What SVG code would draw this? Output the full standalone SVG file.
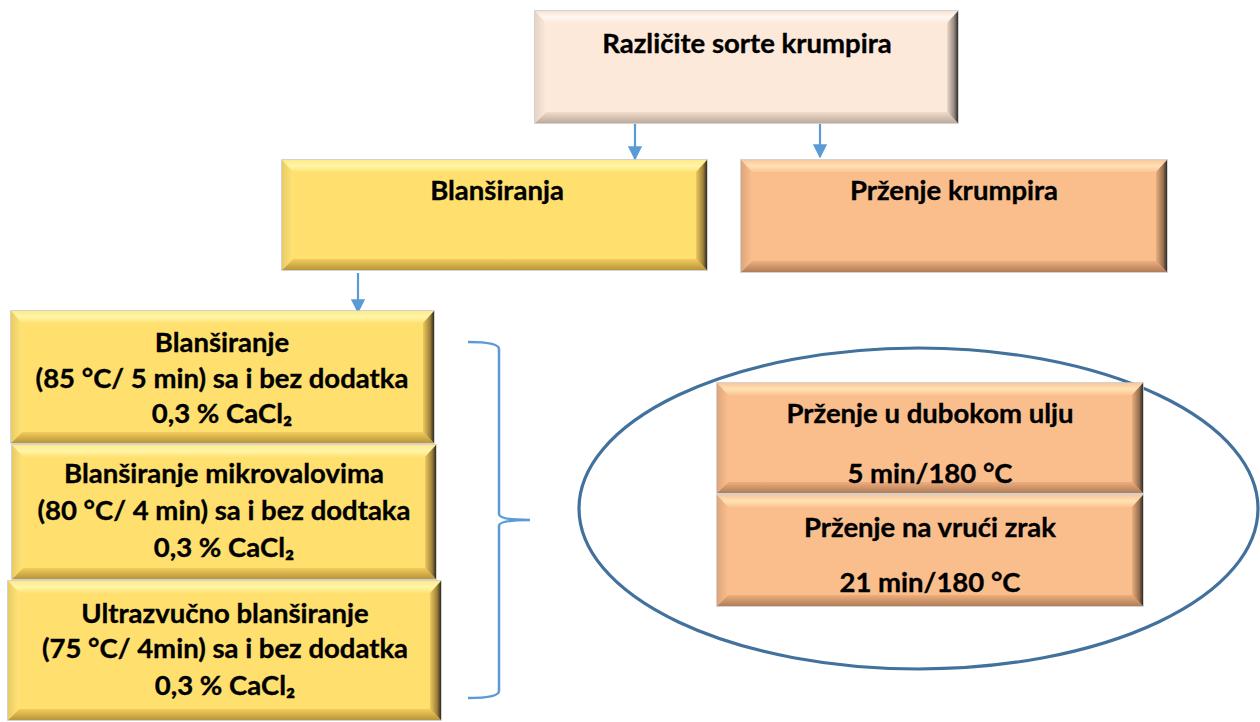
<svg xmlns="http://www.w3.org/2000/svg" width="1260" height="722" viewBox="0 0 1260 722">
<defs>
<linearGradient id="yTop" x1="0" y1="0" x2="0" y2="1"><stop offset="0" stop-color="#FFE98A"/><stop offset="0.5" stop-color="#FFF6A8"/><stop offset="1" stop-color="#FFE277"/></linearGradient>
<linearGradient id="yBot" x1="0" y1="0" x2="0" y2="1"><stop offset="0" stop-color="#F2CC5C"/><stop offset="1" stop-color="#B8953A"/></linearGradient>
<linearGradient id="yRight" x1="0" y1="0" x2="1" y2="0"><stop offset="0" stop-color="#EFC95E"/><stop offset="0.65" stop-color="#9C7F38"/><stop offset="1" stop-color="#2E2A22"/></linearGradient>
<linearGradient id="yLeft" x1="0" y1="0" x2="1" y2="0"><stop offset="0" stop-color="#E9CB62"/><stop offset="1" stop-color="#FFE47A"/></linearGradient>
<linearGradient id="oTop" x1="0" y1="0" x2="0" y2="1"><stop offset="0" stop-color="#F9C79A"/><stop offset="0.5" stop-color="#FFE2B4"/><stop offset="1" stop-color="#FBC590"/></linearGradient>
<linearGradient id="oBot" x1="0" y1="0" x2="0" y2="1"><stop offset="0" stop-color="#EDAE7D"/><stop offset="1" stop-color="#B07D58"/></linearGradient>
<linearGradient id="oRight" x1="0" y1="0" x2="1" y2="0"><stop offset="0" stop-color="#EAAE7E"/><stop offset="0.65" stop-color="#96704F"/><stop offset="1" stop-color="#2E2A28"/></linearGradient>
<linearGradient id="oLeft" x1="0" y1="0" x2="1" y2="0"><stop offset="0" stop-color="#DDA57C"/><stop offset="1" stop-color="#F9BE8C"/></linearGradient>
<linearGradient id="pTop" x1="0" y1="0" x2="0" y2="1"><stop offset="0" stop-color="#F6E4D6"/><stop offset="0.5" stop-color="#FFF7F0"/><stop offset="1" stop-color="#FCEADC"/></linearGradient>
<linearGradient id="pBot" x1="0" y1="0" x2="0" y2="1"><stop offset="0" stop-color="#F0DCCB"/><stop offset="1" stop-color="#BDAA9C"/></linearGradient>
<linearGradient id="pRight" x1="0" y1="0" x2="1" y2="0"><stop offset="0" stop-color="#EEDACA"/><stop offset="0.65" stop-color="#948880"/><stop offset="1" stop-color="#2E2C2A"/></linearGradient>
<linearGradient id="pLeft" x1="0" y1="0" x2="1" y2="0"><stop offset="0" stop-color="#E6D3C4"/><stop offset="1" stop-color="#FCE9DA"/></linearGradient>
<marker id="ah" viewBox="0 0 10 10" refX="9" refY="5" markerWidth="6.5" markerHeight="6.5" orient="auto" markerUnits="strokeWidth"><path d="M0,0 L10,5 L0,10 Z" fill="#5B9BD5"/></marker>
</defs>
<style>
.base{stroke:#C4C4C4;stroke-width:1.5}
.y .base{fill:#FFDF6E}.y .t{fill:url(#yTop)}.y .b{fill:url(#yBot)}.y .r{fill:url(#yRight)}.y .l{fill:url(#yLeft)}
.o .base{fill:#F9BE8C}.o .t{fill:url(#oTop)}.o .b{fill:url(#oBot)}.o .r{fill:url(#oRight)}.o .l{fill:url(#oLeft)}
.p .base{fill:#FCE9DA}.p .t{fill:url(#pTop)}.p .b{fill:url(#pBot)}.p .r{fill:url(#pRight)}.p .l{fill:url(#pLeft)}
text{font-family:Lato,"Liberation Sans",sans-serif;font-weight:bold;font-size:27.5px;fill:#000;text-anchor:middle;stroke:#000;stroke-width:0.35px}
.conn{stroke:#5B9BD5;stroke-width:2.2;fill:none}
.brace{stroke:#5B9BD5;stroke-width:2.5;fill:none}
.ell{stroke:#41719C;stroke-width:3.2;fill:none}
</style>

<g id="connectors">
<line class="conn" x1="635" y1="124" x2="635" y2="159" marker-end="url(#ah)"/>
<line class="conn" x1="820" y1="124" x2="820" y2="157" marker-end="url(#ah)"/>
<line class="conn" x1="358" y1="273" x2="358" y2="312" marker-end="url(#ah)"/>
<path class="brace" d="M468,342 Q499,342 499,349 L499,514 Q499,520 530,520 Q499,520 499,526 L499,691 Q499,698 468,698"/>
<ellipse class="ell" cx="918.5" cy="508.5" rx="339.5" ry="160.5"/>
</g>

<g id="n_sorte" class="p">
<rect class="base" x="535" y="11" width="423" height="112"/>
<polygon class="t" points="535,11 958,11 947,23 546,23"/>
<polygon class="b" points="535,123 958,123 947,112 546,112"/>
<polygon class="l" points="535,11 546,23 546,112 535,123"/>
<polygon class="r" points="958,11 947,23 947,112 958,123"/>
<text x="747" y="53">Različite sorte krumpira</text>
</g>

<g id="n_blansiranja" class="y">
<rect class="base" x="282" y="160" width="425" height="110"/>
<polygon class="t" points="282,160 707,160 696,172 293,172"/>
<polygon class="b" points="282,270 707,270 696,259 293,259"/>
<polygon class="l" points="282,160 293,172 293,259 282,270"/>
<polygon class="r" points="707,160 696,172 696,259 707,270"/>
<text x="497" y="200">Blanširanja</text>
</g>

<g id="n_przenje" class="o">
<rect class="base" x="741" y="160" width="426" height="112"/>
<polygon class="t" points="741,160 1167,160 1156,172 752,172"/>
<polygon class="b" points="741,272 1167,272 1156,261 752,261"/>
<polygon class="l" points="741,160 752,172 752,261 741,272"/>
<polygon class="r" points="1167,160 1156,172 1156,261 1167,272"/>
<text x="954" y="200">Prženje krumpira</text>
</g>

<g id="n_b1" class="y">
<rect class="base" x="11" y="311" width="423" height="132"/>
<polygon class="t" points="11,311 434,311 423,323 22,323"/>
<polygon class="b" points="11,443 434,443 423,432 22,432"/>
<polygon class="l" points="11,311 22,323 22,432 11,443"/>
<polygon class="r" points="434,311 423,323 423,432 434,443"/>
<text x="222" y="352">Blanširanje</text>
<text x="222" y="388">(85 °C/ 5 min) sa i bez dodatka</text>
<text x="222" y="423">0,3 % CaCl₂</text>
</g>

<g id="n_b2" class="y">
<rect class="base" x="12" y="445" width="424" height="134"/>
<polygon class="t" points="12,445 436,445 425,457 23,457"/>
<polygon class="b" points="12,579 436,579 425,568 23,568"/>
<polygon class="l" points="12,445 23,457 23,568 12,579"/>
<polygon class="r" points="436,445 425,457 425,568 436,579"/>
<text x="224" y="483">Blanširanje mikrovalovima</text>
<text x="224" y="520">(80 °C/ 4 min) sa i bez dodtaka</text>
<text x="224" y="557">0,3 % CaCl₂</text>
</g>

<g id="n_b3" class="y">
<rect class="base" x="8" y="581" width="433" height="139"/>
<polygon class="t" points="8,581 441,581 430,593 19,593"/>
<polygon class="b" points="8,720 441,720 430,709 19,709"/>
<polygon class="l" points="8,581 19,593 19,709 8,720"/>
<polygon class="r" points="441,581 430,593 430,709 441,720"/>
<text x="225" y="623">Ultrazvučno blanširanje</text>
<text x="225" y="658">(75 °C/ 4min) sa i bez dodatka</text>
<text x="225" y="695">0,3 % CaCl₂</text>
</g>

<g id="n_duboko" class="o">
<rect class="base" x="717" y="383" width="426" height="110"/>
<polygon class="t" points="717,383 1143,383 1132,395 728,395"/>
<polygon class="b" points="717,493 1143,493 1132,482 728,482"/>
<polygon class="l" points="717,383 728,395 728,482 717,493"/>
<polygon class="r" points="1143,383 1132,395 1132,482 1143,493"/>
<text x="930" y="423">Prženje u dubokom ulju</text>
<text x="930" y="483">5 min/180 °C</text>
</g>

<g id="n_zrak" class="o">
<rect class="base" x="717" y="495" width="426" height="111"/>
<polygon class="t" points="717,495 1143,495 1132,507 728,507"/>
<polygon class="b" points="717,606 1143,606 1132,595 728,595"/>
<polygon class="l" points="717,495 728,507 728,595 717,606"/>
<polygon class="r" points="1143,495 1132,507 1132,595 1143,606"/>
<text x="930" y="537">Prženje na vrući zrak</text>
<text x="930" y="592">21 min/180 °C</text>
</g>
</svg>
